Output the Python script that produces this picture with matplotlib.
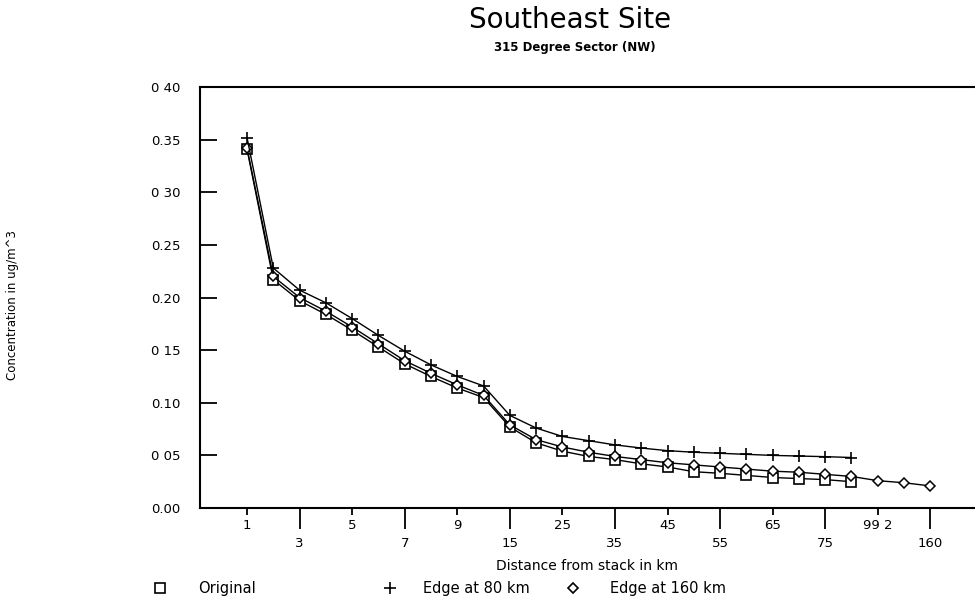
import matplotlib
matplotlib.use("Agg")
import matplotlib.pyplot as plt
from matplotlib.lines import Line2D

# distances (km) along the x axis, one category per point
distances = [1, 2, 3, 4, 5, 6, 7, 8, 9, 10, 15, 20, 25, 30, 35, 40, 45, 50,
             55, 60, 65, 70, 75, 80, 99.2, 120, 160]

original = [0.341, 0.217, 0.197, 0.184, 0.169, 0.153, 0.137, 0.125, 0.114,
            0.105, 0.077, 0.062, 0.054, 0.049, 0.046, 0.042, 0.039, 0.0345,
            0.033, 0.031, 0.029, 0.028, 0.027, 0.025]
edge_80 = [0.352, 0.228, 0.207, 0.195, 0.180, 0.164, 0.149, 0.136, 0.125,
           0.116, 0.088, 0.076, 0.068, 0.064, 0.060, 0.057, 0.0545, 0.053,
           0.052, 0.051, 0.050, 0.0494, 0.0488, 0.048]
edge_160 = [0.342, 0.220, 0.200, 0.187, 0.172, 0.156, 0.140, 0.128, 0.117,
            0.107, 0.079, 0.065, 0.058, 0.053, 0.049, 0.046, 0.043, 0.041,
            0.039, 0.037, 0.035, 0.034, 0.032, 0.030, 0.026, 0.024, 0.021]

upper_labels = ["1", "5", "9", "25", "45", "65", "99 2"]
lower_labels = ["3", "7", "15", "35", "55", "75", "160"]
ytick_vals = [0.00, 0.05, 0.10, 0.15, 0.20, 0.25, 0.30, 0.35, 0.40]
ytick_labels = ["0.00", "0 05", "0.10", "0 15", "0.20", "0.25", "0 30",
                "0.35", "0 40"]
legend_names = ["Original", "Edge at 80 km", "Edge at 160 km"]

font = "DejaVu Sans"

fig = plt.figure(figsize=(9.75, 6.03), dpi=100)
ax = fig.add_axes([0.2051, 0.1575, 0.7949, 0.6982])

xo = list(range(len(original)))
x8 = list(range(len(edge_80)))
x16 = list(range(len(edge_160)))

ax.plot(xo, original, color="black", lw=1.0, marker="s", ms=7,
        mfc="white", mec="black", mew=1.2)
ax.plot(x16, edge_160, color="black", lw=1.0, marker="D", ms=5,
        mfc="white", mec="black", mew=1.1)
ax.plot(x8, edge_80, color="black", lw=1.0, marker="+", ms=9, mew=1.2)

ax.set_xlim(-1.79, 27.7)
ax.set_ylim(0, 0.40)

ax.spines["right"].set_visible(False)
for s in ["left", "top", "bottom"]:
    ax.spines[s].set_linewidth(1.5)

ax.set_yticks(ytick_vals)
ax.set_yticklabels(ytick_labels, fontsize=9.5, family=font)
ax.tick_params(axis="y", direction="in", length=12, width=1.3, pad=14)

ax.set_xticks(list(range(0, len(distances), 4)))
ax.set_xticklabels(upper_labels, fontsize=9.5, family=font)
ax.set_xticks(list(range(2, len(distances), 4)), minor=True)
ax.set_xticklabels(lower_labels, minor=True, fontsize=9.5, family=font)
ax.tick_params(axis="x", which="major", direction="out", length=5,
               width=1.3, pad=3)
ax.tick_params(axis="x", which="minor", direction="out", length=15,
               width=1.3, pad=6)

ax.set_xlabel("Distance from stack in km", fontsize=10, family=font,
              labelpad=6)
fig.text(0.013, 0.494, "Concentration in ug/m^3", rotation=90,
         fontsize=8.5, family=font, ha="center", va="center")

fig.text(0.585, 0.967, "Southeast Site", fontsize=20, family=font,
         ha="center", va="center")
fig.text(0.59, 0.922, "315 Degree Sector (NW)", fontsize=8.5,
         family=font, weight="bold", ha="center", va="center")

# legend row under the x label: marker, then name
ly = 1 - 588 / 603
key_styles = [
    dict(marker="s", ms=7, mfc="white", mec="black", mew=1.2),
    dict(marker="+", ms=8, color="black", mew=1.2),
    dict(marker="D", ms=5, mfc="white", mec="black", mew=1.2),
]
key_x = [160 / 975, 390 / 975, 573 / 975]
text_x = [198 / 975, 423 / 975, 610 / 975]
for kx, tx, st, name in zip(key_x, text_x, key_styles, legend_names):
    fig.add_artist(Line2D([kx], [ly], ls="none", transform=fig.transFigure,
                          **st))
    fig.text(tx, ly, name, fontsize=10.5, family=font, ha="left",
             va="center")

fig.savefig("out.png", dpi=100)
